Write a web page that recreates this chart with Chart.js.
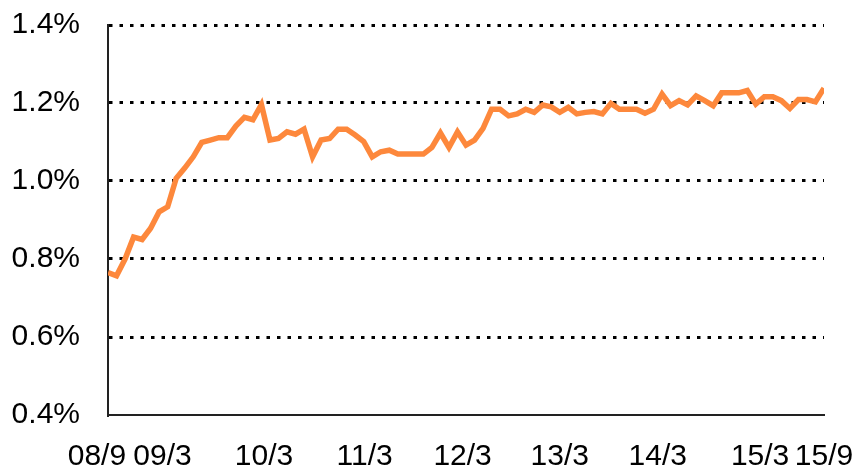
<!DOCTYPE html>
<html>
<head>
<meta charset="utf-8">
<script src="https://cdn.jsdelivr.net/npm/chart.js@4.4.1/dist/chart.umd.min.js"></script>
<style>
html,body{margin:0;padding:0;background:#fff;}
#wrap{width:858px;height:468px;position:relative;}
</style>
</head>
<body>
<div id="wrap"><canvas id="c"></canvas></div>
<script>
// Monthly series, 08/9 (index 0) to 15/9 (index 84), in %
const values = [
  0.765, 0.757, 0.800, 0.856, 0.850, 0.879, 0.921, 0.934, 1.007, 1.033,
  1.062, 1.099, 1.105, 1.111, 1.111, 1.141, 1.163, 1.157, 1.196, 1.105,
  1.109, 1.126, 1.120, 1.133, 1.062, 1.105, 1.109, 1.133, 1.133, 1.118,
  1.101, 1.062, 1.075, 1.079, 1.069, 1.069, 1.069, 1.069, 1.086, 1.123,
  1.086, 1.126, 1.092, 1.105, 1.135, 1.184, 1.184, 1.167, 1.172, 1.184,
  1.176, 1.195, 1.190, 1.176, 1.189, 1.172, 1.176, 1.178, 1.172, 1.199,
  1.184, 1.184, 1.184, 1.174, 1.184, 1.223, 1.193, 1.206, 1.195, 1.218,
  1.206, 1.193, 1.226, 1.226, 1.226, 1.232, 1.197, 1.216, 1.216, 1.206,
  1.186, 1.209, 1.209, 1.203, 1.238
];
// x tick labels and where they sit (months since 08/9)
const tickLabels = ['08/9', '09/3', '10/3', '11/3', '12/3', '13/3', '14/3', '15/3', '15/9'];
const tickMonths = [-1.3, 6.4, 18.3, 30.1, 41.6, 53.0, 64.5, 76.5, 84];
const yTicks = [0.4, 0.6, 0.8, 1.0, 1.2, 1.4];

const points = values.map((v, i) => ({x: i, y: v}));
const FONT = {family: "'Liberation Sans', Arial, sans-serif", size: 30};

new Chart(document.getElementById('c'), {
  type: 'line',
  data: {
    datasets: [{
      data: points,
      borderColor: 'rgb(253,136,60)',
      backgroundColor: 'rgb(253,136,60)',
      borderWidth: 5.5,
      pointRadius: 0,
      tension: 0,
      borderJoinStyle: 'miter',
      borderCapStyle: 'butt',
      fill: false
    }]
  },
  options: {
    responsive: true,
    maintainAspectRatio: false,
    animation: false,
    plugins: {legend: {display: false}, tooltip: {enabled: false}},
    layout: {padding: {top: 25, right: 34, left: 0, bottom: 0}},
    scales: {
      x: {
        type: 'linear',
        min: 0,
        max: 84,
        afterBuildTicks: (s) => { s.ticks = tickMonths.map(v => ({value: v})); },
        afterFit: (s) => { s.height = 53; s.paddingLeft = 0; s.paddingRight = 0; },
        grid: {display: false, drawTicks: false},
        border: {display: true, color: '#222', width: 2},
        ticks: {
          autoSkip: false,
          maxRotation: 0,
          padding: 24,
          color: '#000',
          font: FONT,
          callback: (v, i) => tickLabels[i]
        }
      },
      y: {
        min: 0.4,
        max: 1.4,
        afterBuildTicks: (s) => { s.ticks = yTicks.map(v => ({value: v})); },
        afterFit: (s) => { s.width = 108; s.paddingTop = 0; s.paddingBottom = 0; },
        grid: {
          drawTicks: false,
          lineWidth: 3,
          color: (ctx) => (ctx.tick && Math.abs(ctx.tick.value - 0.4) < 1e-6) ? 'rgba(0,0,0,0)' : '#000'
        },
        border: {display: true, color: '#222', width: 2, dash: [3.5, 7]},
        ticks: {
          padding: 28,
          color: '#000',
          font: FONT,
          callback: (v) => Number(v).toFixed(1) + '%'
        }
      }
    }
  }
});
</script>
</body>
</html>
